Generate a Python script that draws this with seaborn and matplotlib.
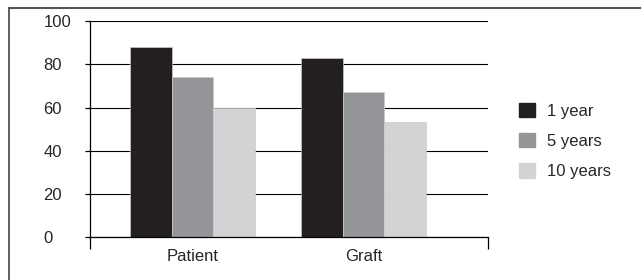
import numpy as np
import pandas as pd
import matplotlib
matplotlib.use('Agg')
import matplotlib.pyplot as plt
import seaborn as sns
from matplotlib.lines import Line2D

# dados do grafico
groups = ['Patient', 'Graft']
periods = ['1 year', '5 years', '10 years']
survival_1y = [88, 83]
survival_5y = [74, 67]
survival_10y = [60, 53.5]
colors = ['#231f20', '#939598', '#d1d3d4']

df = pd.DataFrame({
    'group': groups * 3,
    'period': [periods[0]] * 2 + [periods[1]] * 2 + [periods[2]] * 2,
    'value': survival_1y + survival_5y + survival_10y,
})

sns.set_style('white')
plt.rcParams['font.family'] = ['Liberation Sans', 'DejaVu Sans']

fig = plt.figure(figsize=(6.41, 2.8), dpi=100)
ax = fig.add_axes([90 / 641, 1 - 237 / 280, (488 - 90) / 641, (237 - 21.3) / 280])

sns.barplot(data=df, x='group', y='value', hue='period', order=groups,
            hue_order=periods, palette=colors, width=0.73, ax=ax,
            edgecolor='#c8c9cb', linewidth=0.5, saturation=1, legend=False)

x0, x1 = -0.6, 1.728
ax.set_axisbelow(True)
ax.set_ylim(0, 100)
ax.set_xlim(x0, x1)
ax.set_yticks([0, 20, 40, 60, 80, 100])
ax.yaxis.grid(True, color='black', linewidth=0.8)
ax.set_xlabel('')
ax.set_ylabel('')
for s in ['top', 'right']:
    ax.spines[s].set_visible(False)
for s in ['left', 'bottom']:
    ax.spines[s].set_color('black')
    ax.spines[s].set_linewidth(0.9)

# rotulos do eixo y alinhados a esquerda
ax.tick_params(axis='y', left=True, length=3.6, width=0.9, color='black',
               pad=30, labelsize=12)
for lab in ax.get_yticklabels():
    lab.set_horizontalalignment('left')
ax.tick_params(axis='x', which='major', bottom=False, pad=5, labelsize=12)
ax.set_xticks([x0, x1], minor=True)
ax.tick_params(axis='x', which='minor', bottom=True, length=8.6, width=0.9,
               color='black')

handles = [plt.Rectangle((0, 0), 1, 1, color=c) for c in colors]
fig.legend(handles, periods, loc='center left',
           bbox_to_anchor=(519 / 641, 1 - 141 / 280), frameon=False,
           fontsize=12, handlelength=0.95, handleheight=0.95,
           handletextpad=0.75, labelspacing=0.85, borderpad=0, borderaxespad=0)

# moldura da figura
fig.add_artist(Line2D([9 / 641, 9 / 641], [0, 1 - 7.5 / 280], color='#444444',
                      linewidth=1.2, transform=fig.transFigure))
fig.add_artist(Line2D([9 / 641, 1], [1 - 7.5 / 280, 1 - 7.5 / 280],
                      color='#555555', linewidth=1.5, transform=fig.transFigure))

fig.savefig('out.png', dpi=100)
